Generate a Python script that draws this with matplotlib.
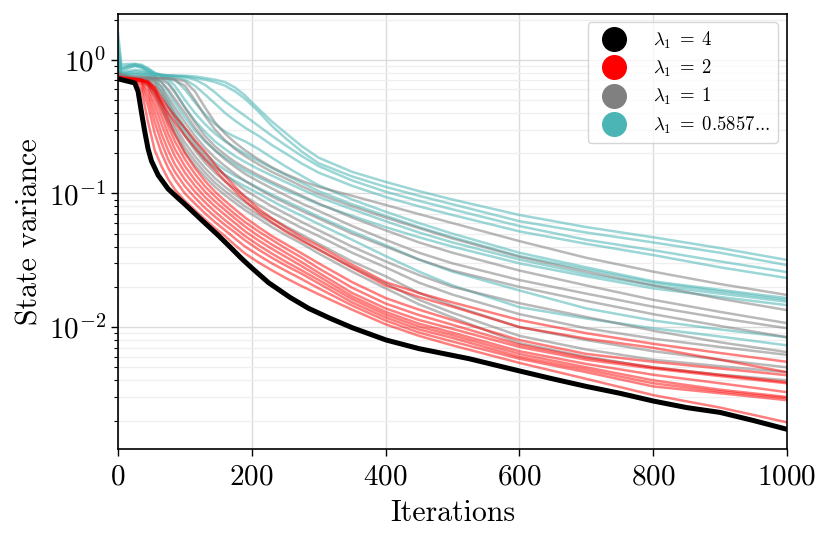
import matplotlib
matplotlib.use("Agg")
import matplotlib.pyplot as plt
from matplotlib.lines import Line2D
from matplotlib.ticker import LogLocator, NullFormatter

plt.rcParams['font.family'] = 'serif'
plt.rcParams['font.serif'] = ['cmr10', 'DejaVu Serif']
plt.rcParams['mathtext.fontset'] = 'cm'
plt.rcParams['axes.unicode_minus'] = False
plt.rcParams['axes.formatter.use_mathtext'] = True

# ---------------- data ----------------
BLACK_ITERS = [0, 5, 15, 25, 30, 36, 40, 45, 50, 60, 75, 90, 100, 115, 130, 150, 167,
               185, 200, 225, 257, 285, 316, 350, 401, 450, 525, 600, 650, 700, 750,
               800, 850, 900, 950, 1000]
BLACK_VALS = [0.72, 0.71, 0.69, 0.67, 0.58, 0.38, 0.29, 0.215, 0.175, 0.137, 0.108,
              0.092, 0.083, 0.0705, 0.060, 0.0485, 0.040, 0.0325, 0.0277, 0.0215, 0.0167,
              0.0138, 0.0117, 0.0099, 0.0080, 0.0069, 0.0058, 0.0047, 0.0041, 0.0036,
              0.0032, 0.0028, 0.0025, 0.0023, 0.0020, 0.00172]

ITERS = [0, 5, 15, 25, 35, 45, 55, 65, 75, 85, 100, 115, 130, 145, 160, 175, 190,
         210, 230, 250, 275, 300, 350, 400, 450, 500, 600, 700, 800, 900, 1000]

red_runs = [
    [0.73, 0.72, 0.71, 0.70, 0.60, 0.34, 0.21, 0.16, 0.128, 0.107, 0.088, 0.075, 0.064, 0.055, 0.048, 0.041, 0.0355, 0.0305, 0.0266, 0.0234, 0.0202, 0.0176, 0.0135, 0.0105, 0.0086, 0.0073, 0.0054, 0.0041, 0.0031, 0.0025, 0.00194],
    [0.73, 0.72, 0.71, 0.70, 0.65, 0.45, 0.28, 0.20, 0.155, 0.127, 0.100, 0.084, 0.071, 0.061, 0.053, 0.046, 0.040, 0.0345, 0.030, 0.0265, 0.0228, 0.0195, 0.0145, 0.0112, 0.0091, 0.0078, 0.0058, 0.0046, 0.0036, 0.0032, 0.00284],
    [0.74, 0.73, 0.72, 0.71, 0.68, 0.52, 0.34, 0.24, 0.18, 0.145, 0.113, 0.093, 0.078, 0.067, 0.058, 0.051, 0.0445, 0.038, 0.033, 0.029, 0.025, 0.0212, 0.0153, 0.0118, 0.0096, 0.0083, 0.0060, 0.0048, 0.0038, 0.0033, 0.00294],
    [0.73, 0.72, 0.72, 0.71, 0.69, 0.58, 0.40, 0.28, 0.21, 0.165, 0.127, 0.103, 0.086, 0.073, 0.063, 0.055, 0.048, 0.041, 0.0355, 0.031, 0.0265, 0.0225, 0.0162, 0.0124, 0.0101, 0.0087, 0.0063, 0.0050, 0.0040, 0.0034, 0.0030],
    [0.74, 0.73, 0.72, 0.71, 0.70, 0.63, 0.46, 0.33, 0.245, 0.19, 0.143, 0.114, 0.094, 0.080, 0.069, 0.060, 0.052, 0.0445, 0.0385, 0.0337, 0.0285, 0.024, 0.0170, 0.0130, 0.0106, 0.0091, 0.0066, 0.0053, 0.0044, 0.0038, 0.00326],
    [0.75, 0.74, 0.73, 0.72, 0.71, 0.66, 0.52, 0.38, 0.28, 0.215, 0.16, 0.126, 0.103, 0.087, 0.075, 0.065, 0.0565, 0.048, 0.0415, 0.0362, 0.0305, 0.0255, 0.0180, 0.0138, 0.0113, 0.0097, 0.0071, 0.0057, 0.0049, 0.0043, 0.0038],
    [0.73, 0.72, 0.72, 0.71, 0.70, 0.68, 0.58, 0.43, 0.32, 0.245, 0.18, 0.14, 0.113, 0.095, 0.081, 0.070, 0.061, 0.052, 0.045, 0.039, 0.033, 0.0275, 0.0197, 0.0150, 0.0123, 0.0104, 0.0074, 0.0059, 0.0050, 0.0044, 0.00387],
    [0.74, 0.73, 0.72, 0.72, 0.71, 0.69, 0.62, 0.48, 0.36, 0.275, 0.20, 0.155, 0.124, 0.103, 0.088, 0.076, 0.066, 0.056, 0.048, 0.042, 0.0355, 0.030, 0.0217, 0.0165, 0.0135, 0.0113, 0.0080, 0.0063, 0.0055, 0.0049, 0.00437],
    [0.75, 0.74, 0.73, 0.72, 0.71, 0.67, 0.58, 0.48, 0.40, 0.34, 0.27, 0.22, 0.18, 0.15, 0.124, 0.104, 0.088, 0.072, 0.061, 0.052, 0.0442, 0.038, 0.0278, 0.0205, 0.0168, 0.0142, 0.0100, 0.0082, 0.0070, 0.0057, 0.0046],
    [0.74, 0.73, 0.72, 0.71, 0.70, 0.68, 0.62, 0.52, 0.44, 0.38, 0.31, 0.25, 0.205, 0.165, 0.135, 0.112, 0.094, 0.077, 0.065, 0.056, 0.047, 0.0405, 0.0293, 0.0217, 0.0180, 0.0153, 0.0113, 0.0090, 0.0075, 0.0064, 0.0055],
]

gray_runs = [
    [0.82, 0.78, 0.76, 0.75, 0.745, 0.74, 0.735, 0.73, 0.725, 0.72, 0.69, 0.58, 0.44, 0.34, 0.28, 0.24, 0.21, 0.18, 0.157, 0.14, 0.124, 0.112, 0.096, 0.082, 0.070, 0.060, 0.044, 0.033, 0.026, 0.021, 0.0174],
    [0.80, 0.77, 0.75, 0.745, 0.74, 0.735, 0.73, 0.725, 0.72, 0.70, 0.64, 0.50, 0.38, 0.30, 0.25, 0.215, 0.19, 0.165, 0.145, 0.13, 0.113, 0.099, 0.080, 0.066, 0.055, 0.046, 0.0335, 0.026, 0.0205, 0.0163, 0.0134],
    [0.80, 0.76, 0.74, 0.735, 0.73, 0.725, 0.72, 0.71, 0.66, 0.57, 0.44, 0.34, 0.27, 0.225, 0.195, 0.172, 0.155, 0.137, 0.122, 0.11, 0.096, 0.084, 0.066, 0.053, 0.043, 0.036, 0.0265, 0.0205, 0.0160, 0.0130, 0.0107],
    [0.78, 0.75, 0.74, 0.73, 0.725, 0.72, 0.71, 0.68, 0.60, 0.51, 0.40, 0.31, 0.25, 0.21, 0.18, 0.158, 0.14, 0.123, 0.109, 0.097, 0.084, 0.074, 0.057, 0.045, 0.036, 0.030, 0.0225, 0.0178, 0.0142, 0.0117, 0.0098],
    [0.78, 0.75, 0.74, 0.73, 0.72, 0.71, 0.69, 0.63, 0.53, 0.44, 0.34, 0.27, 0.22, 0.185, 0.16, 0.14, 0.124, 0.108, 0.095, 0.085, 0.074, 0.065, 0.050, 0.040, 0.032, 0.0265, 0.020, 0.0157, 0.0125, 0.0102, 0.0084],
    [0.77, 0.74, 0.73, 0.72, 0.715, 0.70, 0.66, 0.58, 0.48, 0.39, 0.30, 0.235, 0.19, 0.16, 0.138, 0.12, 0.106, 0.092, 0.080, 0.071, 0.061, 0.053, 0.040, 0.031, 0.0245, 0.020, 0.0151, 0.0119, 0.0094, 0.0077, 0.0065],
    [0.77, 0.74, 0.73, 0.72, 0.71, 0.69, 0.63, 0.54, 0.44, 0.36, 0.27, 0.21, 0.17, 0.143, 0.123, 0.108, 0.095, 0.082, 0.072, 0.064, 0.055, 0.048, 0.036, 0.028, 0.0215, 0.0175, 0.0125, 0.0098, 0.0082, 0.0071, 0.0062],
    [0.76, 0.74, 0.72, 0.71, 0.70, 0.67, 0.59, 0.49, 0.40, 0.32, 0.24, 0.19, 0.155, 0.13, 0.112, 0.098, 0.086, 0.074, 0.065, 0.057, 0.049, 0.042, 0.031, 0.024, 0.0180, 0.0145, 0.0100, 0.0080, 0.0066, 0.0057, 0.0050],
    [0.76, 0.73, 0.72, 0.71, 0.70, 0.66, 0.57, 0.46, 0.37, 0.30, 0.22, 0.175, 0.143, 0.12, 0.104, 0.091, 0.080, 0.069, 0.060, 0.053, 0.045, 0.038, 0.028, 0.0212, 0.0160, 0.0128, 0.0086, 0.0068, 0.0057, 0.0051, 0.0046],
    [0.75, 0.73, 0.72, 0.71, 0.69, 0.64, 0.54, 0.43, 0.34, 0.28, 0.205, 0.162, 0.133, 0.112, 0.097, 0.085, 0.075, 0.065, 0.056, 0.049, 0.042, 0.0355, 0.026, 0.0195, 0.0148, 0.0118, 0.0076, 0.0060, 0.0050, 0.0044, 0.0040],
]

teal_runs = [
    [1.6, 0.92, 0.93, 0.93, 0.90, 0.83, 0.78, 0.77, 0.765, 0.76, 0.76, 0.75, 0.73, 0.71, 0.68, 0.62, 0.54, 0.43, 0.345, 0.285, 0.225, 0.185, 0.145, 0.122, 0.104, 0.090, 0.069, 0.056, 0.047, 0.039, 0.0318],
    [1.4, 0.88, 0.90, 0.91, 0.88, 0.82, 0.78, 0.77, 0.765, 0.76, 0.75, 0.73, 0.71, 0.68, 0.64, 0.58, 0.51, 0.41, 0.32, 0.26, 0.205, 0.168, 0.134, 0.112, 0.096, 0.083, 0.062, 0.051, 0.043, 0.036, 0.0291],
    [1.2, 0.85, 0.88, 0.90, 0.87, 0.81, 0.78, 0.77, 0.76, 0.755, 0.74, 0.71, 0.65, 0.57, 0.49, 0.43, 0.38, 0.32, 0.27, 0.23, 0.19, 0.16, 0.125, 0.103, 0.088, 0.076, 0.057, 0.045, 0.0376, 0.031, 0.0258],
    [1.0, 0.80, 0.80, 0.80, 0.79, 0.78, 0.77, 0.76, 0.75, 0.74, 0.71, 0.64, 0.55, 0.47, 0.40, 0.35, 0.31, 0.27, 0.23, 0.20, 0.167, 0.143, 0.114, 0.094, 0.080, 0.069, 0.052, 0.042, 0.0346, 0.028, 0.0233],
    [1.1, 0.82, 0.86, 0.90, 0.90, 0.86, 0.80, 0.77, 0.75, 0.71, 0.60, 0.48, 0.39, 0.33, 0.29, 0.265, 0.245, 0.215, 0.185, 0.16, 0.135, 0.115, 0.090, 0.073, 0.060, 0.050, 0.036, 0.028, 0.022, 0.019, 0.0165],
    [1.0, 0.85, 0.90, 0.93, 0.92, 0.86, 0.79, 0.76, 0.72, 0.64, 0.50, 0.40, 0.33, 0.28, 0.245, 0.22, 0.198, 0.175, 0.155, 0.138, 0.12, 0.104, 0.083, 0.068, 0.056, 0.047, 0.034, 0.027, 0.0215, 0.0185, 0.016],
    [0.9, 0.78, 0.78, 0.78, 0.775, 0.77, 0.76, 0.74, 0.68, 0.58, 0.44, 0.35, 0.29, 0.245, 0.215, 0.19, 0.172, 0.152, 0.136, 0.122, 0.107, 0.094, 0.076, 0.062, 0.051, 0.043, 0.032, 0.025, 0.0205, 0.0178, 0.0155],
    [0.95, 0.80, 0.82, 0.84, 0.83, 0.80, 0.75, 0.68, 0.58, 0.48, 0.37, 0.295, 0.245, 0.21, 0.185, 0.165, 0.148, 0.132, 0.118, 0.106, 0.094, 0.083, 0.068, 0.056, 0.047, 0.040, 0.030, 0.024, 0.0195, 0.0168, 0.0146],
    [0.9, 0.78, 0.80, 0.82, 0.81, 0.78, 0.72, 0.62, 0.50, 0.41, 0.31, 0.245, 0.20, 0.17, 0.15, 0.135, 0.124, 0.11, 0.098, 0.088, 0.077, 0.067, 0.052, 0.041, 0.032, 0.026, 0.0188, 0.0138, 0.0112, 0.0096, 0.0084],
    [0.85, 0.76, 0.77, 0.78, 0.77, 0.75, 0.68, 0.57, 0.46, 0.37, 0.28, 0.22, 0.18, 0.155, 0.137, 0.124, 0.113, 0.10, 0.088, 0.078, 0.068, 0.059, 0.045, 0.034, 0.026, 0.0205, 0.0141, 0.0116, 0.0098, 0.0085, 0.0073],
]

LABELS = [r'$\lambda_1\;=\;4$', r'$\lambda_1\;=\;2$', r'$\lambda_1\;=\;1$',
          r'$\lambda_1\;=\;0.5857$...']
COLORS = ['#000000', '#ff0000', '#808080', '#4bb5b5']

# ---------------- figure ----------------
fig = plt.figure(figsize=(8.31, 5.38), dpi=100)
ax = fig.add_axes([0.142, 0.165, 0.805, 0.809])

for run in teal_runs:
    ax.plot(ITERS, run, color=COLORS[3], alpha=0.55, lw=1.8,
            solid_capstyle='round', solid_joinstyle='round')
for run in gray_runs:
    ax.plot(ITERS, run, color=COLORS[2], alpha=0.55, lw=1.8,
            solid_capstyle='round', solid_joinstyle='round')
for run in red_runs:
    ax.plot(ITERS, run, color=COLORS[1], alpha=0.5, lw=1.8,
            solid_capstyle='round', solid_joinstyle='round')
ax.plot(BLACK_ITERS, BLACK_VALS, color=COLORS[0], lw=3.6,
        solid_capstyle='round', solid_joinstyle='round')

ax.set_yscale('log')
ax.set_xlim(0, 1000)
ax.set_ylim(0.00122, 2.2)
ax.set_xticks([0, 200, 400, 600, 800, 1000])
ax.yaxis.set_major_locator(LogLocator(base=10, numticks=10))
ax.yaxis.set_minor_locator(LogLocator(base=10, subs=range(2, 10), numticks=20))
ax.yaxis.set_minor_formatter(NullFormatter())

ax.grid(True, which='major', color='#dcdcdc', lw=1.0)
ax.grid(True, which='minor', axis='y', color='#efefef', lw=0.9)
ax.set_axisbelow(True)

ax.tick_params(axis='both', which='major', labelsize=21, direction='out', length=5, width=1)
ax.tick_params(axis='x', which='major', pad=5.5)
ax.tick_params(axis='y', which='minor', direction='out', length=3, width=0.8)
for s in ax.spines.values():
    s.set_linewidth(1.2)

ax.set_xlabel('Iterations', fontsize=21.5, labelpad=7)
ax.set_ylabel('State variance', fontsize=21.5, labelpad=4)

handles = [Line2D([], [], marker='o', ls='none', color=c, markersize=17) for c in COLORS]
leg = ax.legend(handles, LABELS, loc='upper right', fontsize=13.5, frameon=True,
                handletextpad=1.1, labelspacing=0.38, borderpad=0.4, borderaxespad=0.0,
                bbox_to_anchor=(0.9865, 0.9816))
leg.get_frame().set_edgecolor('#cccccc')
leg.get_frame().set_linewidth(1.0)

fig.savefig('out.png', dpi=100)
